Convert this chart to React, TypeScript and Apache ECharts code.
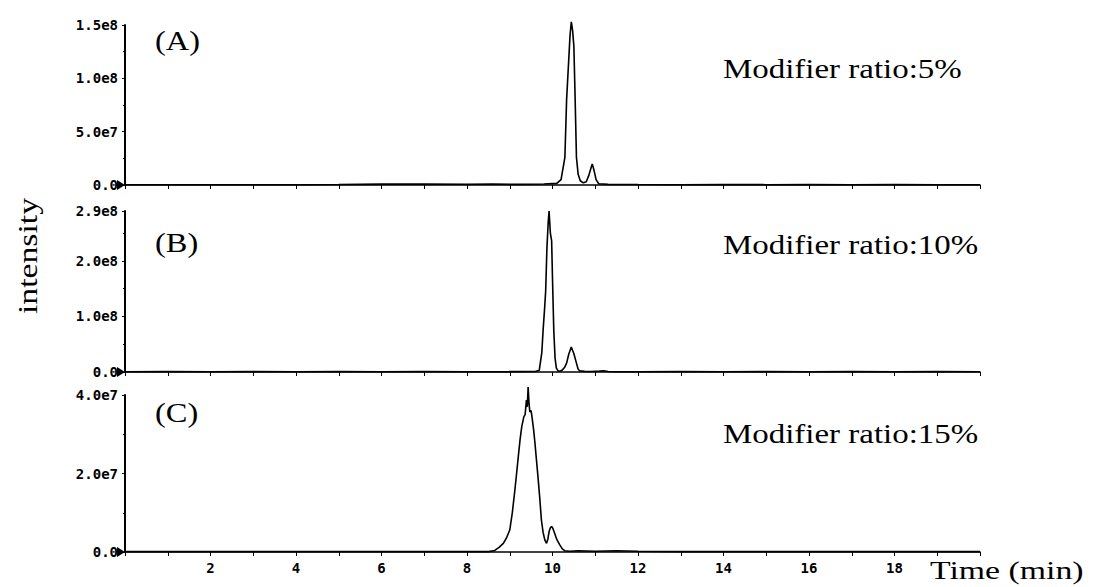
import React, { useEffect, useRef } from "react";
import * as echarts from "echarts";

// Retention time axis (min)
const timeRange = [0, 20];

// (A) modifier ratio 5%
const timeA = [0, 1, 2, 3, 4, 5, 6, 7, 8, 8.6, 9.2, 9.8, 10.1, 10.2, 10.29, 10.33, 10.37, 10.41, 10.44, 10.47, 10.5, 10.53, 10.56, 10.6, 10.65, 10.72, 10.79, 10.85, 10.9, 10.93, 10.97, 11.02, 11.08, 11.3, 12, 13, 14, 15, 16, 17, 18, 19, 20];
const valA = [2e5, 3e5, 2e5, 3e5, 2e5, 4e5, 8e5, 1.0e6, 7e5, 9e5, 6e5, 1.0e6, 1.5e6, 5e6, 2.6e7, 8.0e7, 1.1e8, 1.4e8, 1.53e8, 1.45e8, 1.3e8, 8.0e7, 2.6e7, 1.0e7, 4e6, 2e6, 3e6, 9e6, 1.6e7, 1.97e7, 1.4e7, 5e6, 1.2e6, 6e5, 4e5, 3e5, 4e5, 3e5, 4e5, 3e5, 4e5, 3e5, 2e5];

// (B) modifier ratio 10%
const timeB = [0, 1, 2, 3, 4, 5, 6, 7, 8, 9, 9.6, 9.69, 9.75, 9.78, 9.82, 9.84, 9.87, 9.9, 9.92, 9.95, 9.98, 10.0, 10.03, 10.06, 10.09, 10.13, 10.17, 10.22, 10.28, 10.33, 10.38, 10.44, 10.5, 10.56, 10.6, 10.64, 10.75, 10.9, 11.1, 11.2, 11.3, 11.5, 12, 13, 14, 15, 16, 17, 18, 19, 20];
const valB = [5e5, 6e5, 5e5, 6e5, 5e5, 6e5, 5e5, 6e5, 5e5, 6e5, 1e6, 3e6, 3.5e7, 7.5e7, 1.2e8, 1.46e8, 2.24e8, 2.7e8, 2.9e8, 2.5e8, 2.36e8, 1.68e8, 7.5e7, 2.5e7, 7e6, 2e6, 1.5e6, 3e6, 8e6, 1.6e7, 3.2e7, 4.5e7, 3.3e7, 1.6e7, 5e6, 2e6, 1.2e6, 8e5, 1.5e6, 2.2e6, 1e6, 5e5, 5e5, 6e5, 5e5, 6e5, 5e5, 6e5, 5e5, 6e5, 5e5];

// (C) modifier ratio 15%
const timeC = [0, 1, 2, 3, 4, 5, 6, 7, 8, 8.5, 8.65, 8.75, 8.85, 8.92, 9.0, 9.06, 9.12, 9.16, 9.2, 9.24, 9.28, 9.33, 9.36, 9.39, 9.41, 9.43, 9.45, 9.47, 9.5, 9.53, 9.56, 9.59, 9.62, 9.66, 9.7, 9.74, 9.78, 9.82, 9.86, 9.89, 9.92, 9.95, 9.98, 10.01, 10.05, 10.1, 10.17, 10.23, 10.29, 10.4, 10.6, 11, 11.5, 12, 13, 14, 15, 16, 17, 18, 19, 20];
const valC = [1e5, 1e5, 1e5, 1e5, 1e5, 1e5, 1e5, 1e5, 1e5, 1e5, 4e5, 1.2e6, 2.2e6, 3.5e6, 5.6e6, 1.0e7, 1.58e7, 2.0e7, 2.43e7, 2.85e7, 3.19e7, 3.45e7, 3.5e7, 3.87e7, 3.7e7, 4.2e7, 3.8e7, 3.57e7, 3.6e7, 3.36e7, 3.1e7, 2.77e7, 2.4e7, 1.92e7, 1.4e7, 8.2e6, 5e6, 3.1e6, 2.2e6, 3.2e6, 5.2e6, 6.2e6, 6.5e6, 6.0e6, 4.8e6, 3.2e6, 1.8e6, 8e5, 3e5, 2e5, 3e5, 2e5, 3e5, 2e5, 1e5, 1e5, 1e5, 1e5, 1e5, 1e5, 1e5, 1e5];

// Y-axis extents and tick steps per panel
const yMax = [1.5e8, 2.9e8, 4.0e7];
const yStep = [5e7, 1e8, 2e7];

const panelTags = ["(A)", "(B)", "(C)"];
const ratioLabels = ["Modifier ratio:5%", "Modifier ratio:10%", "Modifier ratio:15%"];
const yAxisTitle = "intensity";
const xAxisTitle = "Time (min)";

const zip = (t: number[], v: number[]) => t.map((x, i) => [x, v[i]]);

const fmtY = (v: number) => (v === 0 ? "0.0" : v.toExponential(1).replace("e+", "e"));

const serif = "'Liberation Serif', 'Times New Roman', serif";
const tickFont = "'DejaVu Sans Mono', monospace";

export default function App() {
  const ref = useRef<HTMLDivElement>(null);

  useEffect(() => {
    if (!ref.current) return;
    const chart = echarts.init(ref.current, undefined, { renderer: "svg" });

    const grids = [
      { left: 125, right: 117, top: 25, height: 160 },
      { left: 125, right: 117, top: 211, height: 161 },
      { left: 125, right: 117, top: 395, height: 157 },
    ];
    const series = [zip(timeA, valA), zip(timeB, valB), zip(timeC, valC)];

    const option: any = {
      animation: false,
      backgroundColor: "#fff",
      grid: grids.map((g) => ({ ...g, outerBoundsMode: "none", containLabel: false })),
      xAxis: grids.map((_, i) => ({
        type: "value",
        gridIndex: i,
        min: timeRange[0],
        max: timeRange[1],
        interval: 1,
        axisLine: { show: true, onZero: false, lineStyle: { color: "#000", width: 1.6 } },
        axisTick: { show: true, length: 4, lineStyle: { color: "#000", width: 1 } },
        splitLine: { show: false },
        axisLabel: {
          show: i === 2,
          margin: 9,
          color: "#000",
          fontFamily: tickFont,
          fontWeight: "bold",
          fontSize: 14,
          formatter: (v: number) => (v > 0 && v < 20 && v % 2 === 0 ? String(v) : ""),
        },
      })),
      yAxis: grids.map((_, i) => ({
        type: "value",
        gridIndex: i,
        min: 0,
        max: yMax[i],
        interval: yStep[i],
        axisLine: { show: true, lineStyle: { color: "#000", width: 2 } },
        axisTick: { show: true, length: 3, lineStyle: { color: "#000", width: 1 } },
        minorTick: { show: true, splitNumber: 2, length: 2, lineStyle: { color: "#000", width: 1 } },
        splitLine: { show: false },
        axisLabel: {
          margin: 7,
          color: "#000",
          fontFamily: tickFont,
          fontWeight: "bold",
          fontSize: 14,
          formatter: fmtY,
        },
      })),
      series: series.map((d, i) => ({
        type: "line",
        xAxisIndex: i,
        yAxisIndex: i,
        data: d,
        showSymbol: false,
        clip: false,
        lineStyle: { color: "#000", width: 1.6 },
        markPoint: {
          silent: true,
          symbol: "triangle",
          symbolSize: [10, 8],
          symbolRotate: -90,
          symbolOffset: [-4, 0],
          itemStyle: { color: "#000" },
          label: { show: false },
          data: [{ coord: [0, 0] }],
        },
      })),
      graphic: [
        ...panelTags.map((t, i) => ({
          type: "text",
          x: 155,
          y: [40, 242, 412][i],
          scaleX: 1.2,
          style: { text: t, font: `27px ${serif}`, fill: "#000", align: "left", verticalAlign: "middle" },
        })),
        ...ratioLabels.map((t, i) => ({
          type: "text",
          x: 723,
          y: [69, 245, 434][i],
          scaleX: 1.22,
          style: { text: t, font: `27px ${serif}`, fill: "#000", align: "left", verticalAlign: "middle" },
        })),
        {
          type: "text",
          x: 28,
          y: 256,
          rotation: Math.PI / 2,
          scaleX: 1.25,
          style: { text: yAxisTitle, font: `27px ${serif}`, fill: "#000", align: "center", verticalAlign: "middle" },
        },
        {
          type: "text",
          x: 930,
          y: 570,
          scaleX: 1.3,
          style: { text: xAxisTitle, font: `26px ${serif}`, fill: "#000", align: "left", verticalAlign: "middle" },
        },
      ],
    };

    chart.setOption(option);
    return () => chart.dispose();
  }, []);

  return (
    <div
      ref={ref}
      style={{ position: "absolute", left: 0, top: 0, width: 1097, height: 587, background: "#fff" }}
    />
  );
}
